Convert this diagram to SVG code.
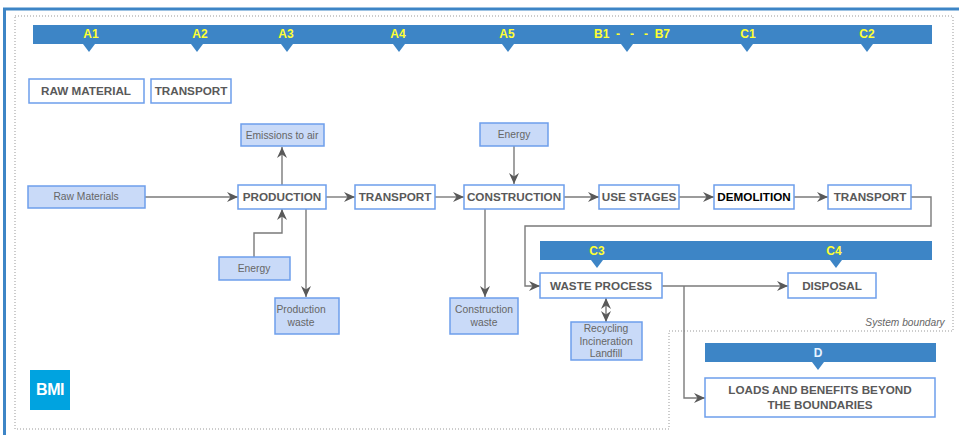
<svg xmlns="http://www.w3.org/2000/svg" width="959" height="435" viewBox="0 0 959 435">
<style>
text{font-family:"Liberation Sans",Arial,sans-serif;text-anchor:middle}
.w{fill:#fff;stroke:#6d9eeb;stroke-width:1.5}
.f{fill:#c9daf8;stroke:#6d9eeb;stroke-width:1.5}
.b{fill:#3d85c6}
.t{font-size:11.700px;font-weight:bold;fill:#595959}
.s{font-size:10.300px;fill:#666}
.y{font-size:12px;font-weight:bold;fill:#ffff33}
.c{fill:none;stroke:#7a7a7a;stroke-width:1.4}
</style>
<defs>
<marker id="a" markerUnits="userSpaceOnUse" markerWidth="12" markerHeight="12" refX="11" refY="5.500" orient="auto-start-reverse">
<path d="M0 0.500L11 5.500L0 10.500L3.500 5.500Z" fill="#595959"/>
</marker>
</defs>
<rect width="959" height="435" fill="#fff"/>
<g id="frame">
<path d="M4.500 435V9H959" fill="none" stroke="#3d85c6" stroke-width="3"/>
<path d="M15 16H953V331H669V429H15Z" fill="none" stroke="#999" stroke-width="1" stroke-dasharray="1 2"/>
<text x="905" y="326" style="font-size:10.200px;font-style:italic;fill:#666">System boundary</text>
</g>
<g id="band-top">
<path class="b" d="M33 25H932V44H873L867 52L861 44H753L747 52L741 44H633L627 52L621 44H514L508 52L502 44H405L399 52L393 44H293L287 52L281 44H203L197 52L191 44H95L89 52L83 44H33Z"/>
<text class="y" x="91" y="38">A1</text>
<text class="y" x="200" y="38">A2</text>
<text class="y" x="286" y="38">A3</text>
<text class="y" x="398" y="38">A4</text>
<text class="y" x="507" y="38">A5</text>
<text class="y" x="632" y="38">B1&#160;&#160;-&#160;&#160;&#160;-&#160;&#160;&#160;-&#160;&#160;B7</text>
<text class="y" x="748" y="38">C1</text>
<text class="y" x="867" y="38">C2</text>
</g>
<g id="band-c">
<path class="b" d="M540 241H932V260H842L836 268L830 260H603L597 268L591 260H540Z"/>
<text class="y" x="597" y="255">C3</text>
<text class="y" x="834" y="255">C4</text>
</g>
<g id="band-d">
<path class="b" d="M705 343H936V362H824L818 370L812 362H705Z"/>
<text class="y" x="818" y="357" style="fill:#e8f4ff">D</text>
</g>
<g id="connectors">
<path class="c" marker-end="url(#a)" d="M145 197H238"/>
<path class="c" marker-end="url(#a)" d="M282 185V147"/>
<path class="c" marker-end="url(#a)" d="M254 257V233H282V209"/>
<path class="c" marker-end="url(#a)" d="M306 209V297"/>
<path class="c" marker-end="url(#a)" d="M326 197H355"/>
<path class="c" marker-end="url(#a)" d="M435 197H464"/>
<path class="c" marker-end="url(#a)" d="M514 146V184"/>
<path class="c" marker-end="url(#a)" d="M485 209V297"/>
<path class="c" marker-end="url(#a)" d="M564 197H599"/>
<path class="c" marker-end="url(#a)" d="M679 197H714"/>
<path class="c" marker-end="url(#a)" d="M794 197H828"/>
<path class="c" marker-end="url(#a)" d="M911 197H931V226H525V286H540"/>
<path class="c" marker-end="url(#a)" d="M662 286H788"/>
<path class="c" marker-end="url(#a)" d="M684 286V398H705"/>
<path class="c" marker-start="url(#a)" marker-end="url(#a)" d="M606 298V322"/>
</g>
<g id="raw-material"><rect class="w" x="29" y="79" width="115" height="24"/><text class="t" x="86" y="95">RAW MATERIAL</text></g>
<g id="transport-legend"><rect class="w" x="151" y="79" width="80" height="24"/><text class="t" x="191" y="95">TRANSPORT</text></g>
<g id="emissions"><rect class="f" x="241" y="124" width="83" height="22"/><text class="s" x="282" y="139">Emissions to air</text></g>
<g id="raw-materials"><rect class="f" x="28" y="186" width="117" height="22"/><text class="s" x="86" y="200">Raw Materials</text></g>
<g id="production"><rect class="w" x="238" y="185" width="88" height="24"/><text class="t" x="282" y="201">PRODUCTION</text></g>
<g id="transport-a4"><rect class="w" x="355" y="185" width="80" height="24"/><text class="t" x="395" y="201">TRANSPORT</text></g>
<g id="construction"><rect class="w" x="464" y="185" width="100" height="24"/><text class="t" x="514" y="201">CONSTRUCTION</text></g>
<g id="use-stages"><rect class="w" x="599" y="185" width="80" height="24"/><text class="t" x="639" y="201">USE STAGES</text></g>
<g id="demolition"><rect class="w" x="714" y="185" width="80" height="24"/><text class="t" x="754" y="201" style="fill:#000">DEMOLITION</text></g>
<g id="transport-c2"><rect class="w" x="828" y="185" width="83" height="24"/><text class="t" x="870" y="201">TRANSPORT</text></g>
<g id="energy-a5"><rect class="f" x="480" y="123" width="68" height="23"/><text class="s" x="514" y="138">Energy</text></g>
<g id="energy-a3"><rect class="f" x="219" y="257" width="71" height="23"/><text class="s" x="254" y="272">Energy</text></g>
<g id="production-waste"><rect class="f" x="275" y="298" width="64" height="36"/><text class="s" x="301" y="313">Production</text><text class="s" x="301" y="326">waste</text></g>
<g id="construction-waste"><rect class="f" x="450" y="298" width="68" height="36"/><text class="s" x="484" y="313">Construction</text><text class="s" x="484" y="326">waste</text></g>
<g id="waste-process"><rect class="w" x="540" y="273" width="122" height="25"/><text class="t" x="601" y="290">WASTE PROCESS</text></g>
<g id="disposal"><rect class="w" x="788" y="273" width="88" height="25"/><text class="t" x="832" y="290">DISPOSAL</text></g>
<g id="recycling"><rect class="f" x="571" y="322" width="71" height="38"/><text class="s" x="606" y="332">Recycling</text><text class="s" x="606" y="345">Incineration</text><text class="s" x="606" y="357">Landfill</text></g>
<g id="loads"><rect class="w" x="705" y="378" width="230" height="39"/><text class="t" x="820" y="394">LOADS AND BENEFITS BEYOND</text><text class="t" x="820" y="409">THE BOUNDARIES</text></g>
<g id="logo"><rect x="30" y="370" width="40" height="40" fill="#00a3e0"/><text x="50" y="395" style="font-size:16px;font-weight:bold;fill:#fff;letter-spacing:-0.500px">BMI</text></g>
</svg>
